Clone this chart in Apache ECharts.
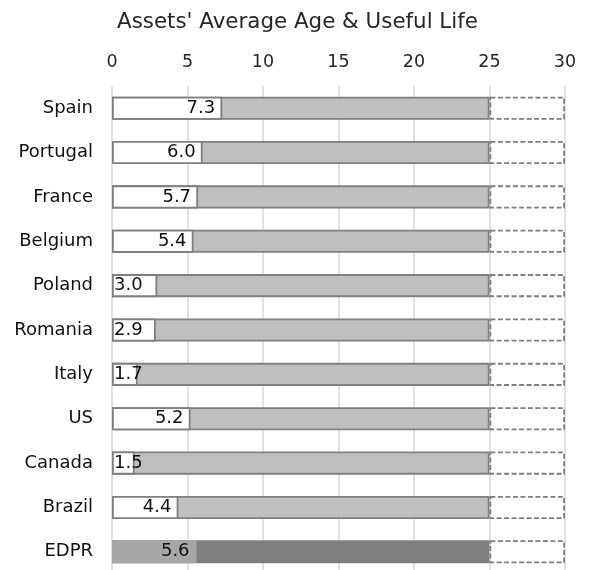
<!DOCTYPE html>
<html>
<head>
<meta charset="utf-8">
<script src="https://cdn.jsdelivr.net/npm/echarts@6/dist/echarts.min.js"></script>
<style>html,body{margin:0;padding:0;background:#fff;overflow:hidden;width:592px;height:570px;}#c{width:592px;height:580px;}</style>
</head>
<body>
<div id="c"></div>
<script>
var categories = ['Spain','Portugal','France','Belgium','Poland','Romania','Italy','US','Canada','Brazil','EDPR'];
var averageAge = [7.3, 6.0, 5.7, 5.4, 3.0, 2.9, 1.7, 5.2, 1.5, 4.4, 5.6];
var usefulLife = [25,25,25,25,25,25,25,25,25,25,25];
var lifeExtension = [5,5,5,5,5,5,5,5,5,5,5];
var xTicks = [0,5,10,15,20,25,30];

var FONT = 'DejaVu Sans, Verdana, sans-serif';
var last = categories.length - 1;

var ageData = averageAge.map(function(v, i){
  var isE = i === last;
  return {
    value: v,
    itemStyle: {color: isE ? '#a6a6a6' : '#ffffff', borderColor: isE ? '#a6a6a6' : '#7f7f7f'},
    label: v < 3.5 ? {position: 'insideLeft', distance: 2} : {position: 'insideRight', distance: 7}
  };
});
var lifeData = usefulLife.map(function(v, i){
  var isE = i === last;
  return {value: v, itemStyle: {color: isE ? '#7f7f7f' : '#bfbfbf', borderColor: '#808080'}};
});

var chart = echarts.init(document.getElementById('c'), null, {renderer: 'canvas'});
chart.setOption({
  animation: false,
  title: {
    text: "Assets' Average Age & Useful Life",
    left: 112, top: 7,
    textStyle: {fontFamily: FONT, fontSize: 21.4, fontWeight: 'normal', color: '#262626'}
  },
  grid: {left: 112, right: 27, top: 86, height: 488, containLabel: false},
  xAxis: {
    type: 'value', position: 'top', min: 0, max: 30, interval: 5,
    axisLine: {show: false}, axisTick: {show: false},
    axisLabel: {fontFamily: FONT, fontSize: 17.5, color: '#262626', margin: 15,
      formatter: function(v){ return xTicks.indexOf(v) >= 0 ? String(v) : ''; }},
    splitLine: {show: true, lineStyle: {color: '#d9d9d9', width: 1.5}}
  },
  yAxis: {
    type: 'category', data: categories, inverse: true,
    axisLine: {show: false}, axisTick: {show: false},
    axisLabel: {fontFamily: FONT, fontSize: 18, color: '#111', margin: 19}
  },
  series: [
    {
      name: 'Useful life', type: 'bar', stack: 'life', data: lifeData,
      barWidth: '52%', barGap: '-100%',
      itemStyle: {borderWidth: 1.8}
    },
    {
      name: 'Extension', type: 'bar', stack: 'life', data: lifeExtension,
      barWidth: '52%', barGap: '-100%',
      itemStyle: {color: 'rgba(255,255,255,0)', borderColor: '#7f7f7f', borderWidth: 1.8, borderType: [5, 2.5]}
    },
    {
      name: 'Average age', type: 'bar', stack: 'age', data: ageData,
      barWidth: '52%', barGap: '-100%', z: 5,
      itemStyle: {borderWidth: 1.8},
      label: {show: true, fontFamily: FONT, fontSize: 18, color: '#111',
        formatter: function(p){ return p.value.toFixed(1); }}
    }
  ]
});
</script>
</body>
</html>
